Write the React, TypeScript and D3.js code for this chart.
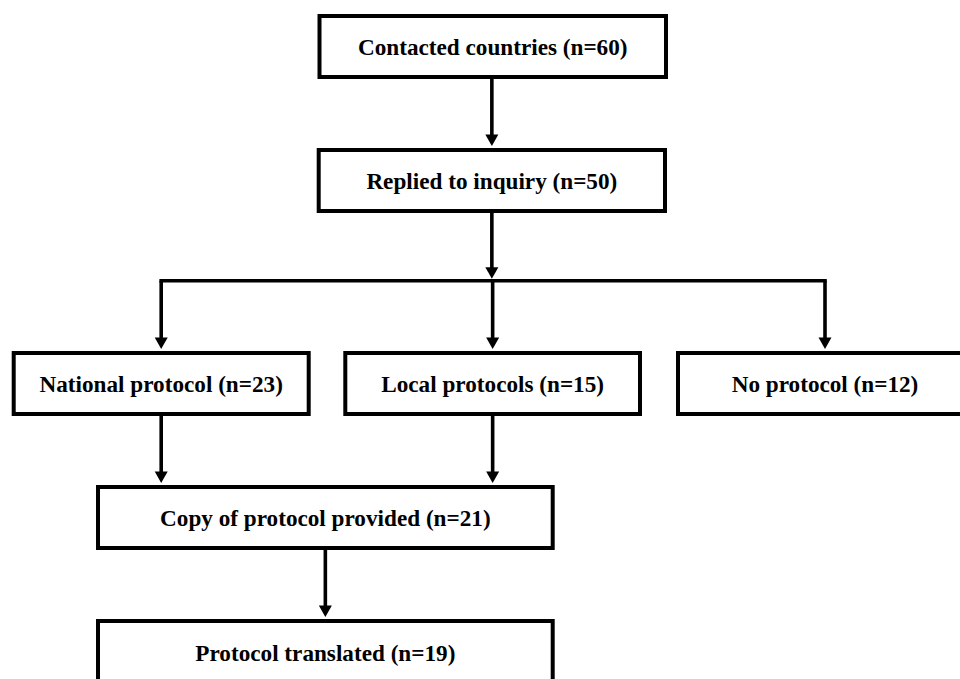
import React from "react";
import * as d3 from "d3";

// ---- Data ----
const stageLabels = [
  "Contacted countries",
  "Replied to inquiry",
  "National protocol",
  "Local protocols",
  "No protocol",
  "Copy of protocol provided",
  "Protocol translated",
];
const stageCounts = [60, 50, 23, 15, 12, 21, 19];
// parent -> children edges (index into stageLabels)
const edges: [number, number[]][] = [
  [0, [1]],
  [1, [2, 3, 4]],
  [2, [5]],
  [3, [5]],
  [5, [6]],
];

// ---- Layout (positions kept separate from data) ----
const rowOf = [0, 1, 2, 2, 2, 3, 4];
const boxX: [number, number][] = [
  [319.5, 666],
  [318.7, 665],
  [13.7, 308.7],
  [345.3, 640],
  [678, 972],
  [98, 552.7],
  [98, 552.7],
];
const rowY = d3.scaleOrdinal<number, number>().domain([0, 1, 2, 3, 4]).range([16, 150, 353, 487, 621]);
const boxH = 61;

const W = 960;
const H = 679;
const stroke = 4;
const lineW = 3.6;
const arrowW = 13;
const arrowH = 11.5;
const arrowGap = 2;

function Arrow({ x, y }: { x: number; y: number }) {
  // y is the tip
  const p = d3.path();
  p.moveTo(x, y);
  p.lineTo(x - arrowW / 2, y - arrowH);
  p.lineTo(x + arrowW / 2, y - arrowH);
  p.closePath();
  return <path d={p.toString()} fill="#000" />;
}

export default function App() {
  const cx = (i: number) => (boxX[i][0] + boxX[i][1]) / 2;
  const top = (i: number) => rowY(rowOf[i]);
  const bottom = (i: number) => rowY(rowOf[i]) + boxH;

  const connectors: React.ReactNode[] = [];
  edges.forEach(([from, tos], ei) => {
    if (tos.length === 1) {
      const to = tos[0];
      const x = tos.length === 1 && from === 2 || from === 3 ? cx(from) : cx(to);
      const y0 = bottom(from);
      const tip = top(to) - stroke / 2 - arrowGap;
      connectors.push(
        <g key={"e" + ei}>
          <line x1={x} x2={x} y1={y0} y2={tip - arrowH + 1} stroke="#000" strokeWidth={lineW} />
          <Arrow x={x} y={tip} />
        </g>
      );
    } else {
      const x0 = cx(from);
      const y0 = bottom(from);
      const splitY = 280.8;
      const xs = tos.map(cx);
      connectors.push(
        <g key={"e" + ei}>
          <line x1={x0} x2={x0} y1={y0} y2={splitY - arrowGap - arrowH + 1} stroke="#000" strokeWidth={lineW} />
          <Arrow x={x0} y={splitY - arrowGap} />
          <line
            x1={d3.min(xs)! - lineW / 2}
            x2={d3.max(xs)! + lineW / 2}
            y1={splitY}
            y2={splitY}
            stroke="#000"
            strokeWidth={lineW}
          />
          {tos.map((to, k) => {
            const tip = top(to) - stroke / 2 - arrowGap;
            return (
              <g key={k}>
                <line x1={xs[k]} x2={xs[k]} y1={splitY} y2={tip - arrowH + 1} stroke="#000" strokeWidth={lineW} />
                <Arrow x={xs[k]} y={tip} />
              </g>
            );
          })}
        </g>
      );
    }
  });

  return (
    <svg
      width={W}
      height={H}
      style={{ position: "absolute", left: 0, top: 0, background: "#fff" }}
      viewBox={`0 0 ${W} ${H}`}
    >
      <rect x={0} y={0} width={W} height={H} fill="#fff" />
      {connectors}
      {stageLabels.map((label, i) => {
        const x0 = boxX[i][0];
        const x1 = boxX[i][1];
        const y = top(i);
        const h = i === 6 ? boxH + 8 : boxH;
        return (
          <g key={i}>
            <rect x={x0} y={y} width={x1 - x0} height={h} fill="#fff" stroke="#000" strokeWidth={stroke} />
            <text
              x={(x0 + x1) / 2}
              y={y + (i === 6 ? 39.5 : boxH / 2 + 8.3)}
              textAnchor="middle"
              fontFamily="'Liberation Serif', 'Times New Roman', serif"
              fontWeight="bold"
              fontSize={23.2}
              fill="#000"
            >
              {`${label} (n=${stageCounts[i]})`}
            </text>
          </g>
        );
      })}
    </svg>
  );
}
